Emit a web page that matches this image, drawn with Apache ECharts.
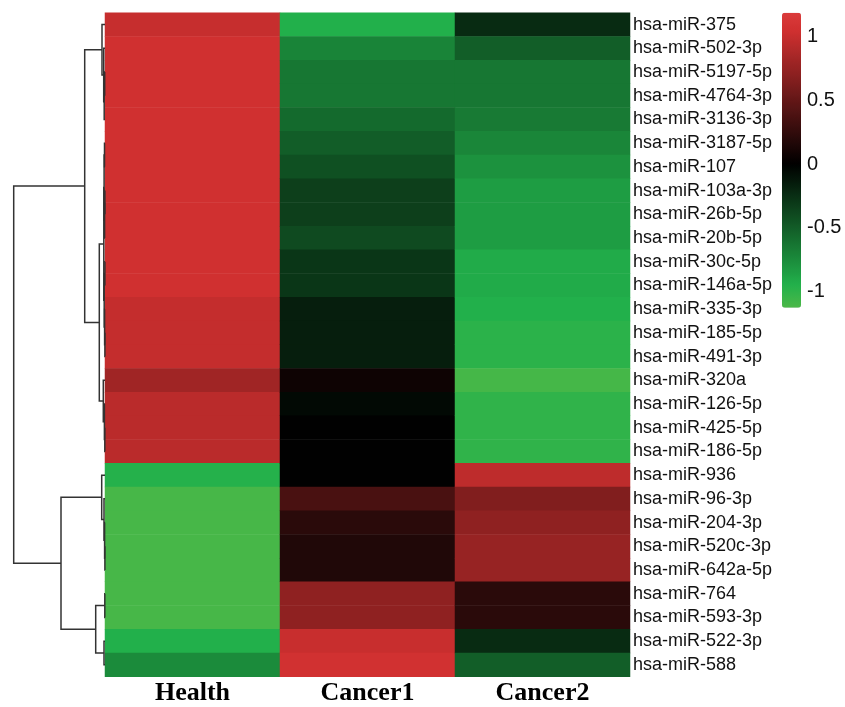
<!DOCTYPE html>
<html>
<head>
<meta charset="utf-8">
<script src="https://cdn.jsdelivr.net/npm/echarts@6/dist/echarts.min.js"></script>
<style>
  html, body { margin: 0; padding: 0; background: #fff; }
  #chart { width: 845px; height: 707px; }
</style>
</head>
<body>
<div id="chart"></div>
<script>
// rows top to bottom, as in the clustered heatmap
var rowNames = [
  'hsa-miR-375', 'hsa-miR-502-3p', 'hsa-miR-5197-5p', 'hsa-miR-4764-3p', 'hsa-miR-3136-3p',
  'hsa-miR-3187-5p', 'hsa-miR-107', 'hsa-miR-103a-3p', 'hsa-miR-26b-5p', 'hsa-miR-20b-5p',
  'hsa-miR-30c-5p', 'hsa-miR-146a-5p', 'hsa-miR-335-3p', 'hsa-miR-185-5p', 'hsa-miR-491-3p',
  'hsa-miR-320a', 'hsa-miR-126-5p', 'hsa-miR-425-5p', 'hsa-miR-186-5p', 'hsa-miR-936',
  'hsa-miR-96-3p', 'hsa-miR-204-3p', 'hsa-miR-520c-3p', 'hsa-miR-642a-5p', 'hsa-miR-764',
  'hsa-miR-593-3p', 'hsa-miR-522-3p', 'hsa-miR-588'
];
var colNames = ['Health', 'Cancer1', 'Cancer2'];

var health = [1.0, 1.05, 1.05, 1.05, 1.05, 1.05, 1.05, 1.05, 1.05, 1.05, 1.05, 1.05, 0.99, 0.99, 0.99,
  0.81, 0.94, 0.94, 0.94, -0.96, -1.11, -1.11, -1.11, -1.11, -1.11, -1.11, -0.95, -0.75];
var cancer1 = [-0.95, -0.71, -0.64, -0.64, -0.57, -0.5, -0.43, -0.34, -0.34, -0.4, -0.29, -0.29, -0.16, -0.16, -0.16,
  0.07, -0.05, 0, 0, 0, 0.37, 0.21, 0.16, 0.16, 0.72, 0.72, 1.01, 1.06];
var cancer2 = [-0.23, -0.51, -0.64, -0.64, -0.66, -0.72, -0.79, -0.85, -0.85, -0.85, -0.92, -0.92, -0.95, -0.99, -0.99,
  -1.1, -1.01, -1.01, -1.01, 0.96, 0.65, 0.72, 0.76, 0.76, 0.21, 0.21, -0.23, -0.51];

var colorbarTicks = [-1, -0.5, 0, 0.5, 1];
var scaleMin = -1.13, scaleMax = 1.19;

// row dendrogram: [nodeA, nodeB, height]; leaves are 0..27, merge k becomes node 28+k
var merges = [
  [2, 3, 0.3], [28, 4, 0.8], [1, 29, 1.3], [0, 30, 3.0],
  [5, 6, 0.5], [7, 8, 0.1], [33, 9, 0.4], [32, 34, 0.9],
  [10, 11, 0.1], [13, 14, 0.1], [12, 37, 0.4], [36, 38, 0.8], [35, 39, 1.2],
  [17, 18, 0.2], [16, 41, 0.6], [15, 42, 1.7],
  [40, 43, 5.7], [31, 44, 20.3],
  [22, 23, 0.1], [21, 46, 0.4], [20, 47, 1.0], [19, 48, 3.3],
  [24, 25, 0.2], [26, 27, 1.0], [50, 51, 9.3],
  [49, 52, 44], [45, 53, 91.3]
];

// green - black - red scale
var anchors = [
  [-1.13, [76, 184, 72]], [-0.95, [34, 176, 75]], [0, [0, 0, 0]],
  [1.05, [208, 48, 48]], [1.19, [218, 58, 58]]
];
function colorAt(v) {
  for (var i = 1; i < anchors.length; i++) {
    if (v <= anchors[i][0] || i === anchors.length - 1) {
      var a = anchors[i - 1], b = anchors[i];
      var t = Math.max(0, Math.min(1, (v - a[0]) / (b[0] - a[0])));
      var c = a[1].map(function (x, j) { return Math.round(x + (b[1][j] - x) * t); });
      return 'rgb(' + c.join(',') + ')';
    }
  }
}
var stops = [];
for (var k = 0; k <= 116; k++) stops.push(colorAt(scaleMin + (scaleMax - scaleMin) * k / 116));

var cells = [];
[health, cancer1, cancer2].forEach(function (vals, c) {
  vals.forEach(function (v, r) { cells.push([c, r, v]); });
});

var nLeaf = rowNames.length;
var pos = [], hgt = [];
for (var i = 0; i < nLeaf; i++) { pos[i] = i; hgt[i] = 0; }
var links = merges.map(function (m, k) {
  var a = m[0], b = m[1], h = m[2];
  pos[nLeaf + k] = (pos[a] + pos[b]) / 2;
  hgt[nLeaf + k] = h;
  return { coords: [[hgt[a], pos[a]], [h, pos[a]], [h, pos[b]], [hgt[b], pos[b]]] };
});

var chart = echarts.init(document.getElementById('chart'));
chart.setOption({
  animation: false,
  backgroundColor: '#fff',
  grid: [
    { left: 105, top: 12.7, width: 525, height: 664 },
    { left: 5, top: 12.7, width: 100, height: 664 },
    { left: 782, top: 12.7, width: 19, height: 295 }
  ],
  xAxis: [
    { type: 'category', gridIndex: 0, data: colNames, axisLine: { show: false }, axisTick: { show: false },
      axisLabel: { fontFamily: 'Liberation Serif', fontWeight: 'bold', fontSize: 26, color: '#000', margin: 4 } },
    { type: 'value', gridIndex: 1, min: 0, max: 100, inverse: true, show: false },
    { type: 'value', gridIndex: 2, min: 0, max: 1, show: false }
  ],
  yAxis: [
    { type: 'category', gridIndex: 0, data: rowNames, inverse: true, position: 'right',
      axisLine: { show: false }, axisTick: { show: false },
      axisLabel: { interval: 0, fontFamily: 'Liberation Sans', fontSize: 18, color: '#111', margin: 3 } },
    { type: 'value', gridIndex: 1, min: -0.5, max: 27.5, inverse: true, show: false },
    { type: 'value', gridIndex: 2, min: scaleMin, max: scaleMax, position: 'right',
      axisLine: { show: false }, axisTick: { show: false }, splitLine: { show: false },
      axisLabel: { customValues: colorbarTicks, fontFamily: 'Liberation Sans', fontSize: 20, color: '#111', margin: 6 } }
  ],
  visualMap: {
    type: 'continuous', seriesIndex: 0, min: scaleMin, max: scaleMax, calculable: false,
    orient: 'vertical', left: 782, top: 12.7, itemWidth: 19, itemHeight: 295, padding: 0,
    inRange: { color: stops }
  },
  series: [
    { type: 'heatmap', xAxisIndex: 0, yAxisIndex: 0, data: cells, emphasis: { disabled: true } },
    { type: 'lines', coordinateSystem: 'cartesian2d', xAxisIndex: 1, yAxisIndex: 1, polyline: true,
      silent: true, data: links, lineStyle: { color: '#333', width: 1.5, opacity: 1 } }
  ]
});
</script>
</body>
</html>
